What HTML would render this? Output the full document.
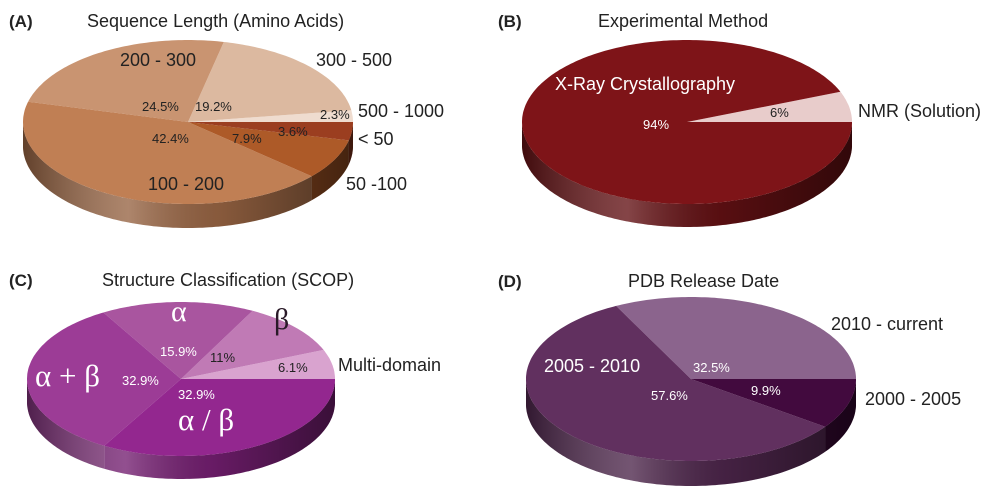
<!DOCTYPE html>
<html><head><meta charset="utf-8"><style>
html,body{margin:0;padding:0;background:#fff;}
svg{display:block;font-family:"Liberation Sans",sans-serif;}
.m{font-family:"Liberation Serif","DejaVu Serif",serif;}
</style></head><body>
<svg id="fig" width="1000" height="498" viewBox="0 0 1000 498">
<defs>
<linearGradient id="shade" x1="0" x2="1" y1="0" y2="0">
<stop offset="0" stop-color="#000" stop-opacity="0.35"/>
<stop offset="0.32" stop-color="#fff" stop-opacity="0.22"/>
<stop offset="0.6" stop-color="#000" stop-opacity="0.1"/>
<stop offset="1" stop-color="#000" stop-opacity="0.5"/>
</linearGradient>
</defs>
<g id="pieA"></g>
<g id="pieB"></g>
<g id="pieC"></g>
<g id="pieD"></g>

<g font-size="18" fill="#222">
<text x="9" y="27" font-weight="bold" font-size="17">(A)</text>
<text x="87" y="27">Sequence Length (Amino Acids)</text>
<text x="498" y="27" font-weight="bold" font-size="17">(B)</text>
<text x="598" y="27">Experimental Method</text>
<text x="9" y="286" font-weight="bold" font-size="17">(C)</text>
<text x="102" y="286">Structure Classification (SCOP)</text>
<text x="498" y="287" font-weight="bold" font-size="17">(D)</text>
<text x="628" y="287">PDB Release Date</text>
</g>

<g font-size="18" fill="#222">
<text x="120" y="66">200 - 300</text>
<text x="316" y="66">300 - 500</text>
<text x="358" y="117">500 - 1000</text>
<text x="358" y="145">&lt; 50</text>
<text x="346" y="190">50 -100</text>
<text x="148" y="190">100 - 200</text>
<text x="858" y="117">NMR (Solution)</text>
<text x="555" y="90" fill="#fff">X-Ray Crystallography</text>
<text x="338" y="371">Multi-domain</text>
<text x="831" y="330">2010 - current</text>
<text x="544" y="372" fill="#fff">2005 - 2010</text>
<text x="865" y="405">2000 - 2005</text>
</g>
<g class="m" fill="#fff">
<text x="171" y="321" font-size="30">α</text>
<text x="274" y="329" font-size="30" fill="#2a1a28">β</text>
<text x="35" y="386" font-size="31">α + β</text>
<text x="178" y="430" font-size="31">α / β</text>
</g>
<g font-size="13" fill="#222">
<text x="142" y="111">24.5%</text>
<text x="195" y="111">19.2%</text>
<text x="320" y="119">2.3%</text>
<text x="152" y="143">42.4%</text>
<text x="232" y="143">7.9%</text>
<text x="278" y="136">3.6%</text>
<text x="770" y="117">6%</text>
<text x="643" y="129" fill="#fff">94%</text>
<text x="160" y="356" fill="#fff">15.9%</text>
<text x="210" y="362">11%</text>
<text x="278" y="372">6.1%</text>
<text x="122" y="385" fill="#fff">32.9%</text>
<text x="178" y="399" fill="#fff">32.9%</text>
<text x="693" y="372" fill="#fff">32.5%</text>
<text x="651" y="400" fill="#fff">57.6%</text>
<text x="751" y="395" fill="#fff">9.9%</text>
</g>
</svg>
<script>
// data (slices counter-clockwise from 3 o'clock)
const catsA = ["500-1000","300-500","200-300","100-200","50-100","<50"];
const valsA = [2.3,19.2,24.5,42.4,7.9,3.6];
const catsB = ["NMR","X-Ray"];
const valsB = [6,94];
const catsC = ["Multi-domain","beta","alpha","alpha+beta","alpha/beta"];
const valsC = [6.1,11,15.9,32.9,32.9];
const catsD = ["2010-current","2005-2010","2000-2005"];
const valsD = [32.5,57.6,9.9];
const colA = ["#efdccf","#dcb9a0","#c99471","#c07f54","#ad5a28","#9b3e20"];
const colB = ["#e8cccb","#7e1418"];
const colC = ["#d9a3cf","#c07ab5","#a9559f","#9c3c96","#93278f"];
const colD = ["#8b648d","#61305f","#420a3e"];

const NS="http://www.w3.org/2000/svg";
function dark(hex,f){const n=parseInt(hex.slice(1),16);const r=(n>>16)*f,g=((n>>8)&255)*f,b=(n&255)*f;return "rgb("+[r,g,b].map(Math.round).join(",")+")";}
function pt(cx,cy,rx,ry,t,dy){return [cx+rx*Math.cos(t),cy-ry*Math.sin(t)+dy];}
function arcPts(cx,cy,rx,ry,a,b,dy){const n=Math.max(2,Math.ceil(Math.abs(b-a)/0.02));const p=[];for(let i=0;i<=n;i++){const t=a+(b-a)*i/n;p.push(pt(cx,cy,rx,ry,t,dy));}return p;}
function ps(p){return p.map(q=>q[0].toFixed(1)+","+q[1].toFixed(1)).join(" L");}
function pie(id,cats,vals,cols,cx,cy,rx,ry,d){
  const g=document.getElementById(id);
  const tot=vals.reduce((a,b)=>a+b,0);
  let a=0;const ang=[];
  vals.forEach(v=>{const b=a+v/tot*2*Math.PI;ang.push([a,b]);a=b;});
  ang.forEach((s,i)=>{
    const lo=Math.max(s[0],Math.PI),hi=Math.min(s[1],2*Math.PI);
    if(hi<=lo)return;
    const top=arcPts(cx,cy,rx,ry,lo,hi,0),bot=arcPts(cx,cy,rx,ry,hi,lo,d);
    const p=document.createElementNS(NS,"path");
    p.setAttribute("d","M"+ps(top)+" L"+ps(bot)+"Z");
    p.setAttribute("fill",dark(cols[i],0.78));
    
    
    g.appendChild(p);
  });
  const band=document.createElementNS(NS,"path");
  band.setAttribute("d","M"+ps(arcPts(cx,cy,rx,ry,Math.PI,2*Math.PI,0))+" L"+ps(arcPts(cx,cy,rx,ry,2*Math.PI,Math.PI,d))+"Z");
  band.setAttribute("fill","url(#shade)");
  
  
  g.appendChild(band);
  ang.forEach((s,i)=>{
    const p=document.createElementNS(NS,"path");
    p.setAttribute("d","M"+cx+","+cy+" L"+ps(arcPts(cx,cy,rx,ry,s[0],s[1],0))+"Z");
    p.setAttribute("fill",cols[i]);
    
    
    g.appendChild(p);
  });
}
pie("pieA",catsA,valsA,colA,188,122,165,82,24);
pie("pieB",catsB,valsB,colB,687,122,165,82,23);
pie("pieC",catsC,valsC,colC,181,379,154,77,23);
pie("pieD",catsD,valsD,colD,691,379,165,82,25);
</script>
</body></html>
